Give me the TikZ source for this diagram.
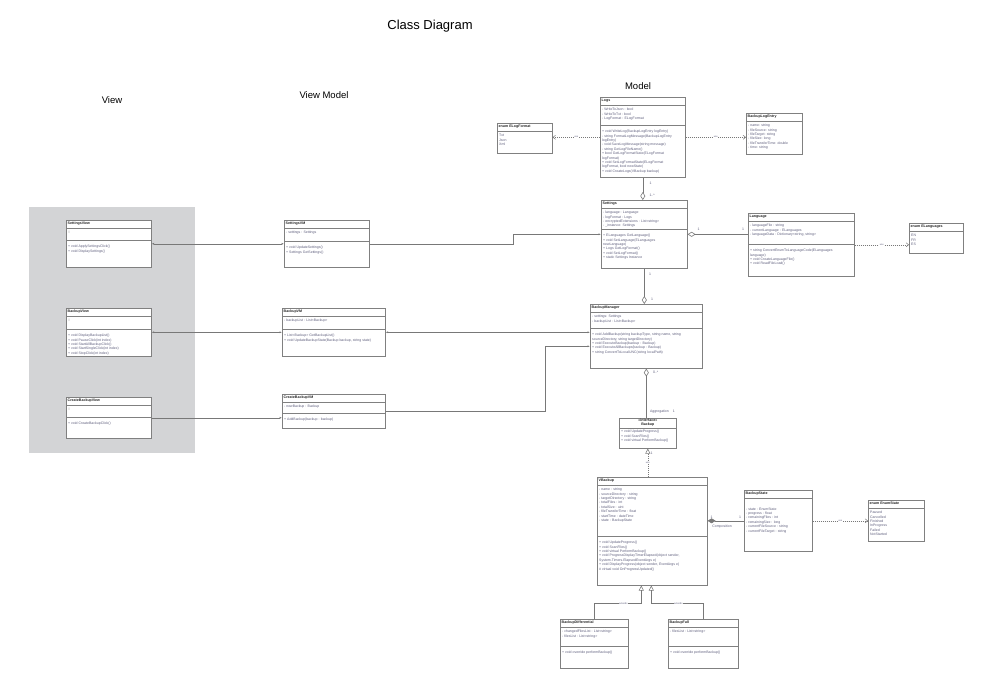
\documentclass[tikz,border=0pt]{standalone}
\usepackage{fontspec}
\setmainfont{Liberation Sans}
\usetikzlibrary{arrows.meta,positioning}

\definecolor{boxgray}{RGB}{128,128,128}
\definecolor{linegray}{RGB}{120,120,120}
\definecolor{membercol}{RGB}{95,95,125}
\definecolor{titlecol}{RGB}{35,35,35}
\definecolor{viewbg}{RGB}{211,212,214}

\tikzset{
  classbox/.style={rectangle, draw=boxgray, line width=0.6pt, fill=white, inner sep=0pt},
  classline/.style={draw=boxgray, line width=0.5pt},
  classtitle/.style={font=\fontsize{3.6}{4.4}\selectfont\bfseries, text=titlecol, inner sep=0pt},
  members/.style={font=\fontsize{3.5}{4.4}\selectfont, text=membercol, align=left, inner sep=0pt},
  mult/.style={font=\fontsize{3.5}{4}\selectfont, text=membercol, inner sep=0.5pt},
  linelabel/.style={font=\fontsize{2.4}{3}\selectfont, text=membercol, fill=white, inner sep=0.4pt},
  heading/.style={font=\fontsize{9.5}{11}\selectfont, text=black},
  assoc/.style={draw=linegray, line width=0.6pt, -{Latex[length=2.5pt,width=2pt]}},
  twoway/.style={draw=linegray, line width=0.6pt, {Latex[length=2.5pt,width=2pt]}-{Latex[length=2.5pt,width=2pt]}},
  usedep/.style={draw=linegray, line width=0.5pt, dash pattern=on 1pt off 1pt, -{Straight Barb[length=2.5pt,width=4pt]}},
  aggr/.style={draw=linegray, line width=0.6pt, {Diamond[open,length=8pt,width=5pt]}-},
  compo/.style={draw=linegray, line width=0.6pt, {Diamond[length=8pt,width=5pt]}-},
  realize/.style={draw=linegray, line width=0.5pt, dash pattern=on 1pt off 1pt, -{Triangle[open,length=5pt,width=5pt]}},
  inherit/.style={draw=linegray, line width=0.5pt, -{Triangle[open,length=5pt,width=5pt]}}
}

% class box: name, x, y, width, height, title, separator offset, attributes, methods
\newcommand{\umlclass}[9]{%
  \node[classbox, minimum width=#4pt, minimum height=#5pt, anchor=north west] (#1) at (#2,#3) {};
  \node[classtitle, anchor=north west] (#1-t) at ([xshift=1.5pt,yshift=-2pt]#1.north west) {#6};
  \draw[classline] ([yshift=-8pt]#1.north west) -- ([yshift=-8pt]#1.north east);
  \draw[classline] ([yshift=-#7pt]#1.north west) -- ([yshift=-#7pt]#1.north east);
  \node[members, anchor=north west] (#1-a) at ([xshift=2pt,yshift=-11pt]#1.north west) {#8};
  \node[members, anchor=north west] (#1-m) at ([xshift=2pt,yshift=-#7pt-5pt]#1.north west) {#9};
}
% enum / plain box: name, x, y, width, height, title, items
\newcommand{\umlenum}[7]{%
  \node[classbox, minimum width=#4pt, minimum height=#5pt, anchor=north west] (#1) at (#2,#3) {};
  \node[classtitle, anchor=north west] (#1-t) at ([xshift=1.5pt,yshift=-2pt]#1.north west) {#6};
  \draw[classline] ([yshift=-8pt]#1.north west) -- ([yshift=-8pt]#1.north east);
  \node[members, anchor=north west] (#1-a) at ([xshift=2pt,yshift=-11pt]#1.north west) {#7};
}

\begin{document}
\begin{tikzpicture}[x=1pt, y=-1pt]
  \useasboundingbox (0,0) rectangle (987,694);

  % Headings
  \node[font=\fontsize{13}{15}\selectfont] (title) at (430,26) {Class Diagram};
  \node[heading] (hview) at (112,100) {View};
  \node[heading] (hvm) at (324,95) {View Model};
  \node[heading] (hmodel) at (638,86) {Model};

  % View layer
  \fill[viewbg] (29,207) rectangle (195,453);
  \umlclass{SettingsView}{66}{220}{85}{47}{SettingsView}{20}
    {\textcolor{gray!60}{//}}
    {+ void ApplySettingsClick()\\+ void DisplaySettings()}
  \umlclass{BackupView}{66}{308}{85}{48}{BackupView}{21}
    {\textcolor{gray!60}{//}}
    {+ void DisplayBackupList()\\+ void PauseClick(int index)\\+ void StartAllBackupClick()\\+ void StartSingleClick(int index)\\+ void StopClick(int index)}
  \umlclass{CreateBackupView}{66}{397}{85}{41}{CreateBackupView}{20}
    {\textcolor{gray!60}{//}}
    {+ void CreateBackupClick()}

  % View model layer
  \umlclass{SettingsVM}{284}{220}{85}{47}{SettingsVM}{21}
    {- settings : Settings}
    {+ void UpdateSettings()\\+ Settings GetSettings()}
  \umlclass{BackupVM}{282}{308}{103}{48}{BackupVM}{21}
    {- backupList : List<Backup>}
    {+ List<Backup> GetBackupList()\\+ void UpdateBackupState(Backup backup, string state)}
  \umlclass{CreateBackupVM}{282}{394}{103}{34}{CreateBackupVM}{19}
    {- newBackup : Backup}
    {+ AddBackup(backup : backup)}

  % Model layer
  \umlclass{Logs}{600}{97}{85}{80}{Logs}{28}
    {- WriteToJson : bool\\- WriteToTxt : bool\\- LogFormat : ELogFormat}
    {+ void WriteLog(BackupLogEntry logEntry)\\- string FormatLogMessage(BackupLogEntry\\logEntry)\\- void SaveLogMessage(string message)\\- string GetLogFileName()\\+ bool GetLogFormatState(ELogFormat\\logFormat)\\+ void SetLogFormatState(ELogFormat\\logFormat, bool newState)\\+ void CreateLogs(VBackup backup)}
  \umlenum{ELogFormat}{497}{123}{55}{30}{enum ELogFormat}
    {Txt\\Json\\Xml}
  \umlenum{BackupLogEntry}{746}{113}{56}{41}{BackupLogEntry}
    {- name: string\\- fileSource: string\\- fileTarget: string\\- fileSize: long\\- fileTransferTime: double\\- time: string}
  \umlclass{Settings}{601}{200}{86}{68}{Settings}{29}
    {- language : Language\\- logFormat : Logs\\- encryptedExtensions : List<string>\\- \_instance: Settings}
    {+ ELanguages GetLanguage()\\+ void SetLanguage(ELanguages\\newLanguage)\\+ Logs GetLogFormat()\\+ void SetLogFormat()\\+ static Settings Instance}
  \umlclass{Language}{748}{213}{106}{63}{Language}{31}
    {- languageFile : string\\- currentLanguage : ELanguages\\- languageData : Dictionary<string, string>}
    {+ string ConvertEnumToLanguageCode(ELanguages\\language)\\+ void CreateLanguageFile()\\+ void ReadFileLoad()}
  \umlenum{ELanguages}{909}{223}{54}{30}{enum ELanguages}
    {EN\\FR\\ES}
  \umlclass{BackupManager}{590}{304}{112}{64}{BackupManager}{24}
    {- settings: Settings\\- backupList : List<Backup>}
    {+ void AddBackup(string backupType, string name, string\\sourceDirectory, string targetDirectory)\\+ void ExecuteBackup(backup : Backup)\\+ void ExecuteAllBackups(backup : Backup)\\+ string ConvertToLocalUNC(string localPath)}

  % interface
  \node[classbox, minimum width=57pt, minimum height=30pt, anchor=north west] (Backup) at (619,418) {};
  \node[classtitle, align=center, anchor=north] (Backup-t) at ([yshift=-0.6pt]Backup.north) {«interface»\\[-0.8pt]Backup};
  \draw[classline] ([yshift=-10pt]Backup.north west) -- ([yshift=-10pt]Backup.north east);
  \node[members, anchor=north west] (Backup-m) at ([xshift=2pt,yshift=-12pt]Backup.north west) {+ void UpdateProgress()\\+ void ScanFiles()\\+ void virtual PerformBackup()};

  \umlclass{VBackup}{597}{477}{110}{108}{VBackup}{59}
    {- name : string\\- sourceDirectory : string\\- targetDirectory : string\\- totalFiles : int\\- totalSize : uint\\- fileTransferTime : float\\- startTime : dateTime\\- state : BackupState}
    {+ void UpdateProgress()\\+ void ScanFiles()\\+ void virtual PerformBackup()\\+ void ProgressDisplayTimerElapsed(object sender,\\System.Timers.ElapsedEventArgs e)\\+ void DisplayProgress(object sender, EventArgs e)\\\# virtual void OnProgressUpdated()}
  \umlenum{BackupState}{744}{490}{68}{61}{BackupState}
    {\mbox{}\\\mbox{}\\- state : EnumState\\- progress : float\\- remainingFiles : int\\- remainingSize : long\\- currentFileSource : string\\- currentFileTarget : string}
  \umlenum{EnumState}{868}{500}{56}{41}{enum EnumState}
    {Paused\\Cancelled\\Finished\\InProgress\\Failed\\NotStarted}
  \umlclass{BackupDifferential}{560}{619}{68}{49}{BackupDifferential}{27}
    {- changedFilesList : List<string>\\- filesList : List<string>}
    {+ void override performBackup()}
  \umlclass{BackupFull}{668}{619}{70}{49}{BackupFull}{27}
    {- filesList : List<string>}
    {+ void override performBackup()}

  % View <-> View model
  \draw[twoway] (SettingsView.east) -- (SettingsVM.west);
  \draw[twoway] (BackupView.east) -- (BackupVM.west);
  \draw[assoc] (CreateBackupView.east) -- (CreateBackupView.east -| CreateBackupVM.west);

  % View model -> Model
  \draw[assoc] (SettingsVM.east) -| ([xshift=-88pt]Settings.west) -- (Settings.west);
  \draw[twoway] (BackupVM.east) -- (BackupVM.east -| BackupManager.west);
  \draw[assoc] (CreateBackupVM.east) -| ([xshift=-45pt,yshift=-10pt]BackupManager.west) -- ([yshift=-10pt]BackupManager.west);

  % Dependencies (use)
  \draw[usedep] (Logs.west) -- (Logs.west -| ELogFormat.east) node[linelabel, midway] (use-logfmt) {use};
  \draw[usedep] (Logs.east) -- (Logs.east -| BackupLogEntry.west) node[linelabel, midway] (use-entry) {use};
  \draw[usedep] (Language.east) -- (Language.east -| ELanguages.west) node[linelabel, midway] (use-lang) {use};
  \draw[usedep] (BackupState.east) -- (BackupState.east -| EnumState.west) node[linelabel, midway] (use-state) {use};

  % Aggregations
  \draw[aggr] (Logs.south |- Settings.north) -- (Logs.south);
  \node[mult, anchor=west] (m-logs) at ([xshift=6pt,yshift=-6pt]Logs.south) {1};
  \node[mult, anchor=west] (m-settop) at ([xshift=6pt,yshift=5pt]Logs.south |- Settings.north) {1..*};
  \draw[aggr] (Settings.east) -- (Settings.east -| Language.west);
  \node[mult, anchor=south] (m-setright) at ([xshift=11pt,yshift=3pt]Settings.east) {1};
  \node[mult, anchor=south] (m-langleft) at ([xshift=-5pt,yshift=3pt]Settings.east -| Language.west) {1};
  \draw[aggr] (Settings.south |- BackupManager.north) -- (Settings.south);
  \node[mult, anchor=west] (m-setbottom) at ([xshift=4pt,yshift=-6pt]Settings.south) {1};
  \node[mult, anchor=west] (m-mgrtop) at ([xshift=6pt,yshift=5pt]Settings.south |- BackupManager.north) {1};
  \draw[aggr] (BackupManager.south) -- (BackupManager.south |- Backup.north);
  \node[mult, anchor=west] (m-mgrbottom) at ([xshift=6pt,yshift=-4pt]BackupManager.south) {0..*};
  \node[mult, anchor=south west] (aggrlabel) at ([xshift=3pt,yshift=4pt]BackupManager.south |- Backup.north) {Aggregation\hspace{4pt}1};

  % Realization and inheritance
  \draw[realize] (VBackup.north -| Backup.south) -- (Backup.south) node[linelabel, pos=0.5] (use-impl) {use};
  \node[mult, anchor=north west] (m-backup) at ([xshift=2pt,yshift=-3pt]Backup.south) {1};
  \draw[inherit] (BackupDifferential.north) |- ([xshift=-11pt,yshift=-18pt]VBackup.south) -- ([xshift=-11pt]VBackup.south);
  \draw[inherit] (BackupFull.north) |- ([xshift=-1pt,yshift=-18pt]VBackup.south) -- ([xshift=-1pt]VBackup.south);
  \node[linelabel] (ext-diff) at ([xshift=-29pt,yshift=-18pt]VBackup.south) {extends};
  \node[linelabel] (ext-full) at ([xshift=26pt,yshift=-18pt]VBackup.south) {extends};

  % Composition
  \draw[compo] (BackupState.west -| VBackup.east) -- (BackupState.west);
  \node[mult, anchor=south] (m-vbackup) at ([xshift=4pt,yshift=2pt]BackupState.west -| VBackup.east) {1};
  \node[mult, anchor=south] (m-bstate) at ([xshift=-4pt,yshift=2pt]BackupState.west) {1};
  \node[mult, anchor=north] (compolabel) at ([xshift=-22pt,yshift=-3pt]BackupState.west) {Composition};
\end{tikzpicture}
\end{document}
